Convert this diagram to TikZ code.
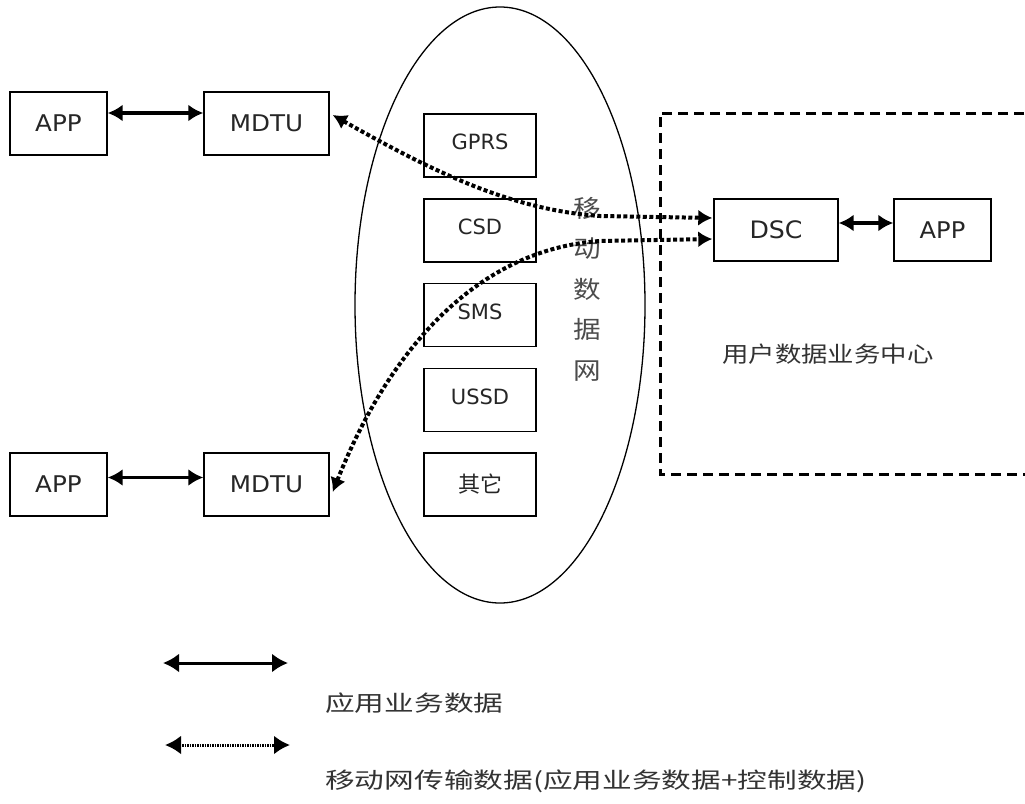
\documentclass[tikz,border=0pt]{standalone}
\usepackage{fontspec}
\usepackage{graphicx}
\setmainfont{DejaVu Sans}
\newfontfamily\cjk{Noto Sans CJK SC}
\usetikzlibrary{arrows.meta,shapes.geometric}
\newcommand{\xs}[2]{\scalebox{#1}[1]{#2}}
\newcommand{\up}[1]{\raisebox{7pt}{#1}}
\begin{document}
\begin{tikzpicture}[x=1pt,y=-1pt,
  bx/.style={draw=black, line width=1.4pt, inner sep=0pt, minimum height=63pt, text=black!85,
    font=\fontsize{23}{23}\selectfont},
  ibx/.style={bx, minimum width=112pt, font=\fontsize{21}{21}\selectfont},
  solarr/.style={line width=3.5pt, {Latex[length=15pt,width=17pt]}-{Latex[length=15pt,width=17pt]}},
  dotarr/.style={line width=4pt, dash pattern=on 4pt off 2.5pt, {Latex[length=14pt,width=16pt]}-{Latex[length=14pt,width=16pt]}},
  legsol/.style={line width=3pt, {Latex[length=16pt,width=19pt]}-{Latex[length=16pt,width=19pt]}},
  legdot/.style={line width=3pt, dash pattern=on 1.5pt off 1pt, {Latex[length=16pt,width=19pt]}-{Latex[length=16pt,width=19pt]}},
  cjktext/.style={text=black!80, inner sep=0pt}
]
\fill[white] (0,0) rectangle (1025,803);
\useasboundingbox (0,0) rectangle (1025,803);

% mobile data network ellipse
\node[draw, ellipse, line width=1.3pt, inner sep=0pt, minimum width=290pt, minimum height=596pt] (net) at (500,305) {};

% left boxes
\node[bx, minimum width=97pt] (app1) at (58.5,123.5) {\xs{1.07}{APP}};
\node[bx, minimum width=125pt] (mdtu1) at (266.5,123.5) {\xs{1.07}{MDTU}};
\node[bx, minimum width=97pt] (app2) at (58.5,484.5) {\xs{1.07}{APP}};
\node[bx, minimum width=125pt] (mdtu2) at (266.5,484.5) {\xs{1.07}{MDTU}};

% inner boxes
\node[ibx] (gprs) at (480,145.5) {\up{GPRS}};
\node[ibx] (csd) at (480,230.5) {\up{CSD}};
\node[ibx] (sms) at (480,315) {\up{SMS}};
\node[ibx] (ussd) at (480,400) {\up{USSD}};
\node[ibx] (other) at (480,484.5) {\cjk\fontsize{22}{22}\selectfont 其它};

% vertical label
\node[cjktext, align=center, font=\cjk\fontsize{24}{40.5}\selectfont, text=black!70] (vlab) at (587,289)
  {\xs{1.15}{移}\\\xs{1.15}{动}\\\xs{1.15}{数}\\\xs{1.15}{据}\\\xs{1.15}{网}};

% user data center
\draw[line width=3pt, dash pattern=on 10pt off 6pt] (1040,113) -- (660,113) -- (660,474) -- (1040,474);
\node[bx, minimum width=124pt, minimum height=62pt, font=\fontsize{24}{24}\selectfont] (dsc) at (776,230) {\xs{1.05}{DSC}};
\node[bx, minimum width=97pt, minimum height=62pt] (app3) at (942.5,230) {\xs{1.05}{APP}};
\node[cjktext, anchor=west, font=\cjk\fontsize{22}{22}\selectfont] (udc) at (722,354) {\xs{1.2}{用户数据业务中心}};

% application data arrows
\draw[solarr] ([shift={(0,-10.5)}]app1.east) -- ([shift={(0,-10.5)}]mdtu1.west);
\draw[solarr] ([shift={(0,-7)}]app2.east) -- ([shift={(0,-7)}]mdtu2.west);
\draw[solarr] ([shift={(0,-7)}]dsc.east) -- ([shift={(0,-7)}]app3.west);

% mobile network data arrows
\draw[dotarr] ([shift={(3,-8.5)}]mdtu1.east) .. controls (430,170) and (510,210) .. (600,216) -- ([shift={(-1,-12)}]dsc.west);
\draw[dotarr] ([shift={(3,7.5)}]mdtu2.east) .. controls (385,360) and (470,250) .. (600,241) -- ([shift={(-1,9)}]dsc.west);

% legend
\coordinate (ls1) at (163,663);
\coordinate (ls2) at (288,663);
\coordinate (ld1) at (165,745);
\coordinate (ld2) at (290,745);
\draw[legsol] (ls1) -- (ls2);
\draw[legdot] (ld1) -- (ld2);
\node[cjktext, anchor=west, font=\cjk\fontsize{22}{22}\selectfont] (leg1) at (325,703) {\xs{1.35}{应用业务数据}};
\node[cjktext, anchor=west, font=\cjk\fontsize{22}{22}\selectfont] (leg2) at (325,781) {\xs{1.35}{移动网传输数据(应用业务数据+控制数据)}};
\end{tikzpicture}
\end{document}
